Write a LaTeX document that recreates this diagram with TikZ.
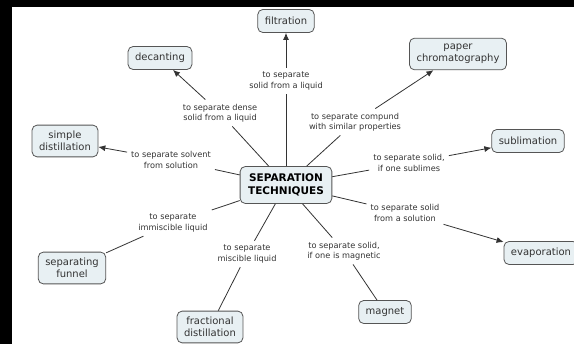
\documentclass[tikz,border=0pt]{standalone}
\usepackage{fontspec}
\setmainfont{DejaVu Sans}
\usetikzlibrary{arrows.meta}
\definecolor{boxfill}{HTML}{E8F0F3}
\definecolor{boxline}{HTML}{555555}
\definecolor{inkgrey}{HTML}{333333}
\tikzset{
  concept/.style={draw=boxline, fill=boxfill, rounded corners=5pt, line width=0.8pt,
    align=center, font=\fontsize{10}{12}\selectfont, text=inkgrey,
    inner xsep=7pt, inner ysep=6pt, minimum height=23pt},
  mainconcept/.style={concept, font=\fontsize{10.5}{13.5}\selectfont\bfseries, text=black,
    inner xsep=8pt, inner ysep=7pt},
  linkword/.style={align=center, font=\fontsize{8.2}{10.5}\selectfont, text=inkgrey, inner sep=4pt},
  link/.style={line width=0.8pt, inkgrey},
  arr/.style={link, -{Latex[length=7pt,width=6pt]}},
}

\begin{document}
\begin{tikzpicture}[x=1pt,y=-1pt]
% frame
\fill[black] (0,0) rectangle (574,344);
\fill[white] (12,7) rectangle (574,344);
\useasboundingbox (0,0) rectangle (574,344);
% concepts
\node[mainconcept] (sep) at (286,185) {SEPARATION\\TECHNIQUES};
\node[concept] (filt) at (286,21) {filtration};
\node[concept] (dec) at (160,58) {decanting};
\node[concept] (simp) at (65,141) {simple\\distillation};
\node[concept] (paper) at (458,54) {paper\\chromatography};
\node[concept] (subl) at (528,141) {sublimation};
\node[concept] (evap) at (541,253) {evaporation};
\node[concept] (magn) at (385,312) {magnet};
\node[concept] (frac) at (210,327) {fractional\\distillation};
\node[concept] (funn) at (72,268) {separating\\funnel};
% linking words
\node[linkword] (lfilt) at (286,81) {to separate\\solid from a liquid};
\node[linkword] (ldec) at (220,113) {to separate dense\\solid from a liquid};
\node[linkword] (lsimp) at (171,160) {to separate solvent\\from solution};
\node[linkword] (lpaper) at (355,122) {to separate compund\\with similar properties};
\node[linkword] (lsubl) at (409,163) {to separate solid,\\if one sublimes};
\node[linkword] (levap) at (405,213) {to separate solid\\from a solution};
\node[linkword] (lmagn) at (344,251) {to separate solid,\\if one is magnetic};
\node[linkword] (lfrac) at (247,254) {to separate\\miscible liquid};
\node[linkword] (lfunn) at (173,223) {to separate\\immiscible liquid};
% links
\draw[link] (sep) -- (lfilt); \draw[arr] (lfilt) -- (filt);
\draw[link] (sep) -- (ldec); \draw[arr] (ldec) -- (dec);
\draw[link] (sep) -- (lsimp); \draw[arr] (lsimp) -- (simp);
\draw[link] (sep) -- (lpaper); \draw[arr] (lpaper) -- (paper);
\draw[link] (sep) -- (lsubl); \draw[arr] (lsubl) -- (subl);
\draw[link] (sep) -- (levap); \draw[arr] (levap) -- (evap);
\draw[link] (sep) -- (lmagn); \draw[link] (lmagn) -- (magn);
\draw[link] (sep) -- (lfrac); \draw[link] (lfrac) -- (frac);
\draw[link] (sep) -- (lfunn); \draw[link] (lfunn) -- (funn);
\end{tikzpicture}
\end{document}
